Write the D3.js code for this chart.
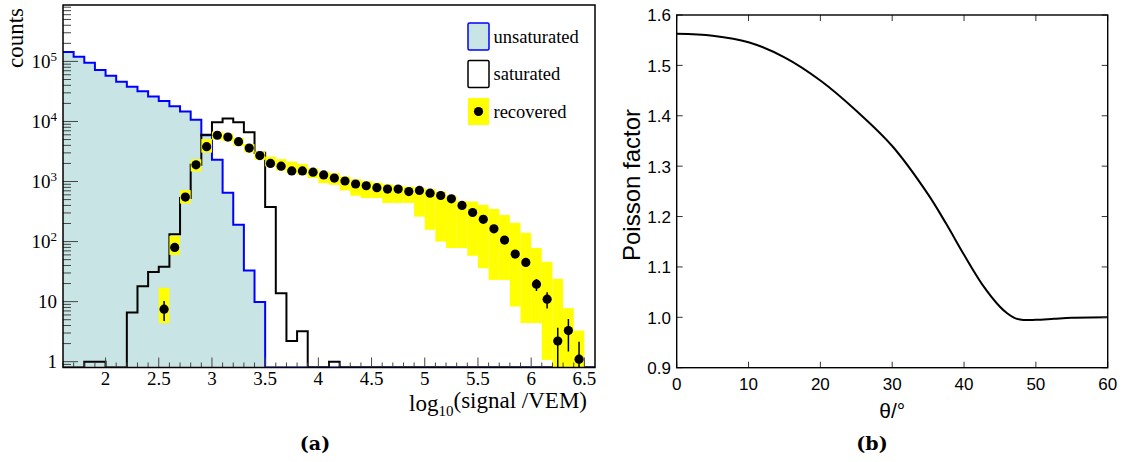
<!DOCTYPE html>
<html>
<head>
<meta charset="utf-8">
<script src="https://cdn.jsdelivr.net/npm/d3@7"></script>
<style>
  body { margin: 0; background: #fff; }
  svg { display: block; }
</style>
</head>
<body>
<svg id="chart" width="1131" height="462"></svg>
<script>
// ---- panel (a) data: histograms in bins of 0.1 in log10(signal/VEM), 1.6 .. 6.6
const binEdges = d3.range(16, 67).map(d => d / 10);

const unsatCounts = [143000, 120000, 95000, 72000, 58000, 46000, 38000, 32000, 26000, 22000,
  18000, 14700, 10700, 5900, 2300, 650, 190, 33, 9.9,
  0, 0, 0, 0, 0, 0, 0, 0, 0, 0, 0, 0, 0, 0, 0, 0, 0, 0, 0, 0, 0, 0, 0, 0, 0, 0, 0, 0, 0, 0, 0];

const satCounts = [0, 0, 1, 1, 0, 0, 6.6, 18, 31, 38,
  132, 530, 1900, 6000, 9700, 11200, 9700, 6600, 3000, 375,
  13.8, 2.2, 3.2, 0, 0, 1,
  0, 0, 0, 0, 0, 0, 0, 0, 0, 0, 0, 0, 0, 0, 0, 0, 0, 0, 0, 0, 0, 0, 0, 0];

// recovered signals (bin centres), with systematic band low/high
const recCenters = [2.55, 2.65, 2.75, 2.85, 2.95, 3.05, 3.15, 3.25, 3.35, 3.45,
  3.55, 3.65, 3.75, 3.85, 3.95, 4.05, 4.15, 4.25, 4.35, 4.45,
  4.55, 4.65, 4.75, 4.85, 4.95, 5.05, 5.15, 5.25, 5.35, 5.45,
  5.55, 5.65, 5.75, 5.85, 5.95, 6.05, 6.15, 6.25, 6.35, 6.45];
const recCounts = [7.5, 80, 550, 1900, 3800, 5900, 5500, 4600, 3600, 2700,
  2000, 1800, 1500, 1500, 1430, 1290, 1140, 1020, 910, 850,
  790, 750, 750, 680, 710, 640, 585, 515, 400, 305,
  235, 163, 106, 62, 45, 19.5, 11, 2.2, 3.3, 1.1];
const recLow = [4.4, 60, 430, 1470, 3030, 5000, 4700, 3900, 3050, 2300,
  1780, 1525, 1380, 1290, 1140, 940, 880, 710, 580, 530,
  530, 440, 440, 440, 260, 157, 100, 78, 78, 58,
  36, 23, 23, 8.3, 4.4, 4.4, 1.07, 0.5, 0.5, 0.5];
const recHigh = [17, 125, 720, 2350, 5100, 6800, 6300, 5300, 4200, 3150,
  2600, 2360, 2150, 1970, 1660, 1470, 1380, 1210, 1090, 1020,
  960, 900, 850, 820, 790, 750, 680, 580, 470, 465,
  410, 350, 277, 205, 140, 78, 46, 24, 7.8, 3.3];

const xTicksA = [2, 2.5, 3, 3.5, 4, 4.5, 5, 5.5, 6, 6.5];
const yTicksA = [1, 10, 100, 1000, 10000, 100000];

// ---- panel (b) data: Poisson factor vs zenith angle
const theta = [0, 5, 10, 15, 20, 25, 30, 35, 37.5, 40, 42.5, 45, 46, 47, 48, 50, 52.5, 55, 60];
const poisson = [1.563, 1.559, 1.546, 1.516, 1.470, 1.410, 1.340, 1.244, 1.186, 1.124, 1.066,
  1.021, 1.008, 0.999, 0.995, 0.995, 0.997, 0.999, 1.0];
const xTicksB = [0, 10, 20, 30, 40, 50, 60];
const yTicksB = [0.9, 1.0, 1.1, 1.2, 1.3, 1.4, 1.5, 1.6];

const svg = d3.select('#chart');
const serif = '"Liberation Serif", "Times New Roman", serif';
const sans = '"Liberation Sans", Arial, sans-serif';

// ================= panel (a) =================
const A = { left: 63, right: 595, top: 5, bottom: 367.5 };
const xA = d3.scaleLinear().domain([1.6, 6.6]).range([A.left, A.right]);
const yA = d3.scaleLog().domain([0.8, 8.7e5]).range([A.bottom, A.top]);
const yv = v => v > 0 ? Math.min(yA(v), A.bottom) : A.bottom;

svg.append('clipPath').attr('id', 'clipA')
  .append('rect').attr('x', A.left).attr('y', A.top)
  .attr('width', A.right - A.left).attr('height', A.bottom - A.top);

const gA = svg.append('g');
const plotA = gA.append('g').attr('clip-path', 'url(#clipA)');

function stepData(counts) {
  const pts = counts.map((c, i) => [binEdges[i], c]);
  pts.push([binEdges[counts.length], counts[counts.length - 1]]);
  return pts;
}

const unsatPts = stepData(unsatCounts);
plotA.append('path')
  .datum(unsatPts)
  .attr('d', d3.area().curve(d3.curveStepAfter)
    .x(d => xA(d[0])).y0(A.bottom).y1(d => yv(d[1])))
  .attr('fill', '#c8e4e4');
plotA.append('path')
  .datum(unsatPts)
  .attr('d', d3.line().curve(d3.curveStepAfter).x(d => xA(d[0])).y(d => yv(d[1])))
  .attr('fill', 'none').attr('stroke', '#0000ff').attr('stroke-width', 2);

plotA.append('path')
  .datum(stepData(satCounts))
  .attr('d', d3.line().curve(d3.curveStepAfter).x(d => xA(d[0])).y(d => yv(d[1])))
  .attr('fill', 'none').attr('stroke', '#000').attr('stroke-width', 2);

// systematic band boxes
plotA.selectAll('.sys')
  .data(recCenters)
  .enter()
  .append('rect')
  .attr('class', 'sys')
  .attr('x', d => xA(d - 0.05))
  .attr('width', d => xA(d + 0.05) - xA(d - 0.05))
  .attr('y', (d, i) => yv(recHigh[i]))
  .attr('height', (d, i) => yv(recLow[i]) - yv(recHigh[i]))
  .attr('fill', '#ffff00');

// poisson error bars
plotA.selectAll('.err')
  .data(recCenters)
  .enter()
  .append('line')
  .attr('class', 'err')
  .attr('x1', d => xA(d)).attr('x2', d => xA(d))
  .attr('y1', (d, i) => yv(recCounts[i] + Math.sqrt(recCounts[i])))
  .attr('y2', (d, i) => yv(recCounts[i] - Math.sqrt(recCounts[i])))
  .attr('stroke', '#000').attr('stroke-width', 1.5);

plotA.selectAll('.dot')
  .data(recCenters)
  .enter()
  .append('circle')
  .attr('class', 'dot')
  .attr('cx', d => xA(d))
  .attr('cy', (d, i) => yA(recCounts[i]))
  .attr('r', 4.6)
  .attr('fill', '#000');

// axes (a)
const xAxisA = gA.append('g').attr('transform', `translate(0,${A.bottom})`);
xAxisA.selectAll('.minor')
  .data(d3.range(16, 66).map(d => d / 10))
  .enter()
  .append('line')
  .attr('x1', d => xA(d)).attr('x2', d => xA(d))
  .attr('y1', 0).attr('y2', d => (Math.round(d * 10) % 5 === 0) ? -10 : -5)
  .attr('stroke', '#444').attr('stroke-width', 1);
xAxisA.selectAll('.lbl')
  .data(xTicksA)
  .enter()
  .append('text')
  .attr('x', d => xA(d)).attr('y', 17.5)
  .attr('text-anchor', 'middle')
  .style('font-family', serif).style('font-size', '19px')
  .text(d => d);

const yAxisA = gA.append('g').attr('transform', `translate(${A.left},0)`);
const yMinorA = [];
[1, 10, 100, 1000, 10000, 100000].forEach(dec => {
  for (let k = 1; k < 10; k++) {
    const v = dec * k;
    if (v >= 0.8 && v <= 8.7e5) yMinorA.push(v);
  }
});
yMinorA.push(0.8, 0.9);
yAxisA.selectAll('.ytick')
  .data(yMinorA)
  .enter()
  .append('line')
  .attr('x1', 0).attr('y1', d => yA(d)).attr('y2', d => yA(d))
  .attr('x2', d => yTicksA.includes(d) ? 15 : 8)
  .attr('stroke', '#444').attr('stroke-width', 1);

yTicksA.forEach(v => {
  const p = Math.round(Math.log10(v));
  const t = yAxisA.append('text')
    .attr('x', -6).attr('y', yA(v)).attr('dy', '0.35em')
    .attr('text-anchor', 'end')
    .style('font-family', serif).style('font-size', '19px');
  if (p < 2) {
    t.text(v);
  } else {
    t.append('tspan').text('10');
    t.append('tspan').attr('dy', '-0.55em').style('font-size', '13px').text(p);
  }
});

gA.append('rect')
  .attr('x', A.left).attr('y', A.top)
  .attr('width', A.right - A.left).attr('height', A.bottom - A.top)
  .attr('fill', 'none').attr('stroke', '#000').attr('stroke-width', 1.5);

// axis titles (a)
gA.append('text')
  .attr('transform', `translate(23,8) rotate(-90)`)
  .attr('text-anchor', 'end')
  .style('font-family', serif).style('font-size', '23px')
  .text('counts');

const xt = gA.append('text')
  .attr('x', 587).attr('y', 411)
  .attr('text-anchor', 'end')
  .style('font-family', serif).style('font-size', '23px');
xt.append('tspan').text('log');
xt.append('tspan').attr('dy', '0.35em').style('font-size', '15px').text('10');
xt.append('tspan').attr('dy', '-0.35em').text('(signal /VEM)');

// legend (a)
const legend = gA.append('g');
legend.append('rect').attr('x', 468).attr('y', 23).attr('width', 21).attr('height', 27)
  .attr('rx', 1.5).attr('fill', '#c8e4e4').attr('stroke', '#0000ff').attr('stroke-width', 1.5);
legend.append('rect').attr('x', 468).attr('y', 60.5).attr('width', 21).attr('height', 27)
  .attr('rx', 1.5).attr('fill', '#fff').attr('stroke', '#000').attr('stroke-width', 1.5);
legend.append('rect').attr('x', 468).attr('y', 98).attr('width', 21).attr('height', 27)
  .attr('fill', '#ffff00');
legend.append('circle').attr('cx', 478.5).attr('cy', 111.5).attr('r', 4.6).attr('fill', '#000');
[['unsaturated', 42.5], ['saturated', 80], ['recovered', 117.5]].forEach(([t, y]) => {
  legend.append('text').attr('x', 493.5).attr('y', y)
    .style('font-family', serif).style('font-size', '18.5px').text(t);
});

// caption
svg.append('text').attr('x', 315).attr('y', 450).attr('text-anchor', 'middle')
  .style('font-family', '"DejaVu Serif", serif').style('font-weight', 'bold').style('font-size', '19px')
  .text('(a)');

// ================= panel (b) =================
const B = { left: 676.7, right: 1107.7, top: 15, bottom: 367.7 };
const xB = d3.scaleLinear().domain([0, 60]).range([B.left, B.right]);
const yB = d3.scaleLinear().domain([0.9, 1.6]).range([B.bottom, B.top]);
const gB = svg.append('g');

gB.append('path')
  .datum(theta)
  .attr('d', d3.line().curve(d3.curveCatmullRom.alpha(0.5)).x(d => xB(d)).y((d, i) => yB(poisson[i])))
  .attr('fill', 'none').attr('stroke', '#000').attr('stroke-width', 2);

// ticks on all four sides, pointing inwards
xTicksB.forEach(d => {
  gB.append('line').attr('x1', xB(d)).attr('x2', xB(d)).attr('y1', B.bottom).attr('y2', B.bottom - 6)
    .attr('stroke', '#333');
  gB.append('line').attr('x1', xB(d)).attr('x2', xB(d)).attr('y1', B.top).attr('y2', B.top + 6)
    .attr('stroke', '#333');
});
yTicksB.forEach(d => {
  gB.append('line').attr('x1', B.right).attr('x2', B.right - 6).attr('y1', yB(d)).attr('y2', yB(d))
    .attr('stroke', '#333');
  gB.append('line').attr('x1', B.left).attr('x2', B.left + 6).attr('y1', yB(d)).attr('y2', yB(d))
    .attr('stroke', '#333');
});

gB.append('rect')
  .attr('x', B.left).attr('y', B.top)
  .attr('width', B.right - B.left).attr('height', B.bottom - B.top)
  .attr('fill', 'none').attr('stroke', '#000').attr('stroke-width', 1.4);

gB.selectAll('.xl')
  .data(xTicksB)
  .enter()
  .append('text')
  .attr('x', d => xB(d)).attr('y', 390)
  .attr('text-anchor', 'middle')
  .style('font-family', sans).style('font-size', '17px')
  .text(d => d);
gB.selectAll('.yl')
  .data(yTicksB)
  .enter()
  .append('text')
  .attr('x', 671).attr('y', d => yB(d)).attr('dy', '0.38em')
  .attr('text-anchor', 'end')
  .style('font-family', sans).style('font-size', '17px')
  .text(d => d.toFixed(1));

gB.append('text')
  .attr('x', xB(30)).attr('y', 418)
  .attr('text-anchor', 'middle')
  .style('font-family', sans).style('font-size', '21px')
  .text('θ/°');
gB.append('text')
  .attr('transform', `translate(640,185) rotate(-90)`)
  .attr('text-anchor', 'middle')
  .style('font-family', sans).style('font-size', '24px')
  .text('Poisson factor');

svg.append('text').attr('x', 872).attr('y', 450).attr('text-anchor', 'middle')
  .style('font-family', '"DejaVu Serif", serif').style('font-weight', 'bold').style('font-size', '19px')
  .text('(b)');
</script>
</body>
</html>
